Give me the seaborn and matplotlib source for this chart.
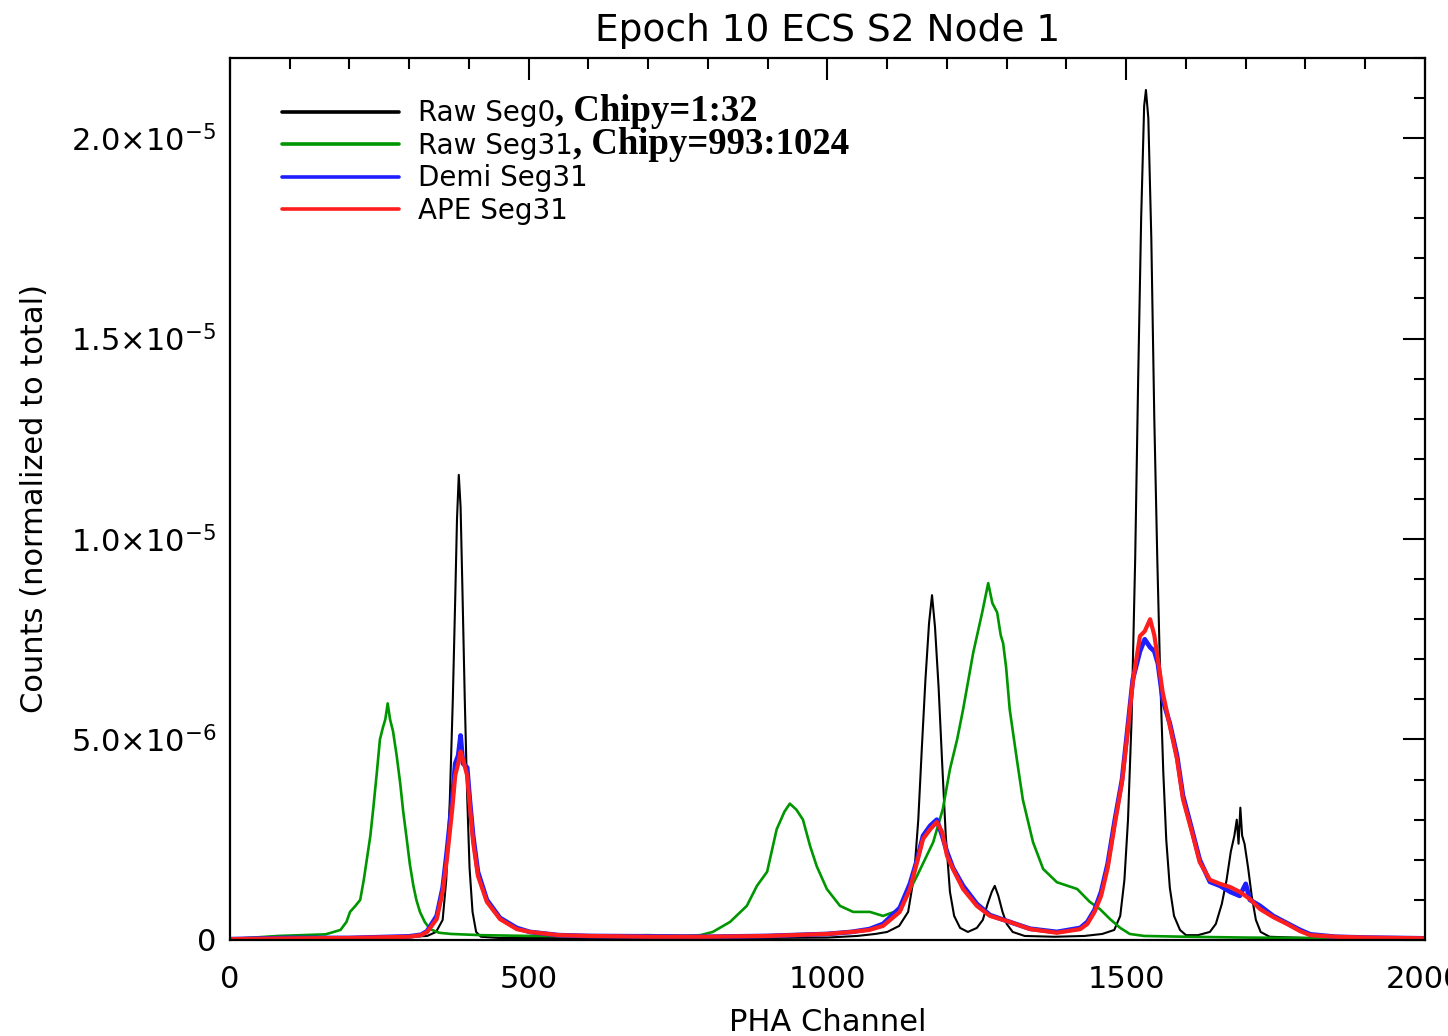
import numpy as np
import pandas as pd
import matplotlib
matplotlib.use("Agg")
import matplotlib.pyplot as plt
import seaborn as sns
from matplotlib.ticker import MultipleLocator, FuncFormatter

# ---------------- data (values in units of 1e-6) ----------------
title = "Epoch 10 ECS S2 Node 1"
x_label = "PHA Channel"
y_label = "Counts (normalized to total)"
series_names = ["Raw Seg0", "Raw Seg31", "Demi Seg31", "APE Seg31"]
series_extra = [", Chipy=1:32", ", Chipy=993:1024", "", ""]

black_pts = [(0, 0.0), (40, 0.02), (100, 0.05), (150, 0.04), (200, 0.06), (250, 0.05),
             (300, 0.08), (330, 0.1), (345, 0.2), (356, 0.5), (362, 1.5), (368, 3.5),
             (373, 6.0), (377, 8.5), (380, 10.5), (383, 11.6), (386, 10.8), (389, 8.8),
             (393, 6.0), (397, 3.6), (401, 1.8), (406, 0.7), (412, 0.2), (420, 0.08),
             (450, 0.05), (500, 0.05), (600, 0.04), (700, 0.05), (800, 0.05), (900, 0.05),
             (1000, 0.06), (1050, 0.1), (1080, 0.15), (1100, 0.2), (1120, 0.35), (1135, 0.7),
             (1145, 1.6), (1152, 3.0), (1158, 4.8), (1164, 6.5), (1170, 7.9), (1175, 8.6),
             (1180, 7.8), (1186, 6.3), (1192, 4.4), (1198, 2.6), (1205, 1.2), (1212, 0.6),
             (1222, 0.3), (1235, 0.2), (1250, 0.3), (1260, 0.5), (1268, 0.9), (1275, 1.2),
             (1280, 1.35), (1286, 1.1), (1293, 0.7), (1300, 0.4), (1310, 0.2), (1330, 0.1),
             (1380, 0.08), (1430, 0.1), (1460, 0.15), (1480, 0.25), (1490, 0.6), (1497, 1.5),
             (1503, 3.0), (1509, 5.5), (1515, 9.5), (1520, 14.0), (1525, 18.0), (1530, 20.8),
             (1533, 21.2), (1537, 20.5), (1542, 17.5), (1547, 13.0), (1552, 9.5), (1557, 6.5),
             (1562, 4.2), (1567, 2.5), (1573, 1.3), (1580, 0.6), (1590, 0.25), (1600, 0.12),
             (1620, 0.12), (1640, 0.2), (1650, 0.4), (1660, 0.9), (1668, 1.5), (1675, 2.2),
             (1681, 2.6), (1685, 3.0), (1688, 2.4), (1691, 3.3), (1694, 2.6), (1698, 2.4),
             (1704, 1.8), (1710, 1.1), (1717, 0.5), (1725, 0.2), (1740, 0.08), (1800, 0.05),
             (1900, 0.04), (2000, 0.03)]

green_pts = [(0, 0.02), (40, 0.06), (80, 0.1), (120, 0.12), (160, 0.14), (185, 0.25),
             (195, 0.45), (201, 0.7), (210, 0.85), (218, 1.0), (224, 1.5), (229, 2.0),
             (235, 2.6), (240, 3.3), (246, 4.2), (251, 5.0), (256, 5.3), (260, 5.5),
             (264, 5.9), (268, 5.5), (273, 5.2), (279, 4.6), (285, 3.9), (290, 3.2),
             (296, 2.5), (301, 1.9), (307, 1.35), (312, 1.0), (318, 0.7), (326, 0.45),
             (335, 0.27), (350, 0.18), (370, 0.15), (420, 0.12), (500, 0.1), (600, 0.1),
             (700, 0.12), (760, 0.1), (787, 0.12), (808, 0.2), (837, 0.45), (865, 0.85),
             (882, 1.35), (899, 1.7), (915, 2.76), (928, 3.2), (937, 3.4), (948, 3.25),
             (959, 3.0), (971, 2.34), (982, 1.84), (999, 1.27), (1021, 0.85), (1043, 0.7),
             (1071, 0.7), (1093, 0.6), (1121, 0.75), (1150, 1.6), (1177, 2.44), (1193, 3.26),
             (1205, 4.26), (1217, 5.0), (1227, 5.75), (1244, 7.17), (1259, 8.17), (1269, 8.9),
             (1276, 8.4), (1284, 8.17), (1290, 7.6), (1294, 7.4), (1299, 6.8), (1305, 5.75),
             (1317, 4.5), (1327, 3.5), (1344, 2.44), (1361, 1.77), (1384, 1.44), (1418, 1.27),
             (1439, 0.95), (1456, 0.77), (1473, 0.52), (1490, 0.3), (1506, 0.15), (1530, 0.1),
             (1600, 0.08), (1700, 0.06), (1800, 0.05), (2000, 0.03)]

blue_pts = [(0, 0.02), (100, 0.05), (200, 0.05), (300, 0.09), (320, 0.13), (330, 0.22),
            (346, 0.6), (356, 1.3), (363, 2.2), (372, 3.5), (377, 4.4), (382, 4.6),
            (386, 5.1), (390, 4.4), (397, 4.3), (402, 3.4), (407, 2.6), (415, 1.7),
            (430, 1.0), (452, 0.55), (480, 0.3), (502, 0.2), (550, 0.12), (600, 0.1),
            (700, 0.09), (800, 0.08), (900, 0.1), (1000, 0.15), (1040, 0.2), (1070, 0.27),
            (1093, 0.4), (1121, 0.8), (1138, 1.4), (1150, 2.0), (1160, 2.6), (1172, 2.85),
            (1183, 3.0), (1192, 2.6), (1200, 2.2), (1210, 1.8), (1227, 1.35), (1250, 0.9),
            (1272, 0.62), (1305, 0.45), (1339, 0.28), (1384, 0.2), (1423, 0.3), (1435, 0.45),
            (1447, 0.75), (1458, 1.2), (1469, 1.9), (1481, 3.0), (1493, 4.0), (1501, 5.1),
            (1511, 6.5), (1523, 7.2), (1531, 7.5), (1540, 7.3), (1547, 7.2), (1553, 6.9),
            (1561, 6.0), (1573, 5.4), (1585, 4.6), (1595, 3.6), (1610, 2.75), (1623, 2.0),
            (1640, 1.45), (1657, 1.35), (1674, 1.2), (1690, 1.1), (1700, 1.4), (1707, 1.0),
            (1724, 0.85), (1746, 0.6), (1769, 0.42), (1791, 0.25), (1808, 0.14), (1850, 0.08),
            (1900, 0.06), (2000, 0.04)]

red_pts = [(0, 0.02), (100, 0.04), (200, 0.05), (300, 0.08), (320, 0.12), (330, 0.2),
           (346, 0.52), (356, 1.2), (363, 2.0), (372, 3.26), (377, 4.1), (382, 4.4),
           (386, 4.7), (390, 4.5), (397, 4.1), (402, 3.26), (407, 2.44), (415, 1.6),
           (430, 0.95), (452, 0.52), (480, 0.27), (502, 0.2), (550, 0.12), (600, 0.1),
           (700, 0.08), (800, 0.08), (900, 0.1), (1000, 0.15), (1040, 0.2), (1070, 0.25),
           (1093, 0.35), (1121, 0.7), (1138, 1.27), (1150, 1.94), (1160, 2.52), (1172, 2.76),
           (1183, 2.94), (1192, 2.69), (1200, 2.1), (1210, 1.77), (1227, 1.27), (1250, 0.85),
           (1272, 0.6), (1305, 0.45), (1339, 0.27), (1384, 0.18), (1423, 0.27), (1435, 0.4),
           (1447, 0.7), (1458, 1.1), (1469, 1.8), (1481, 2.9), (1493, 3.94), (1501, 5.0),
           (1511, 6.43), (1523, 7.58), (1531, 7.7), (1540, 8.0), (1547, 7.6), (1553, 7.0),
           (1561, 6.18), (1573, 5.34), (1585, 4.51), (1595, 3.51), (1610, 2.69), (1623, 1.94),
           (1640, 1.5), (1657, 1.4), (1674, 1.32), (1690, 1.2), (1707, 1.02), (1724, 0.77),
           (1746, 0.57), (1769, 0.40), (1791, 0.22), (1808, 0.12), (1850, 0.08), (1900, 0.06),
           (2000, 0.04)]

series_pts = [black_pts, green_pts, blue_pts, red_pts]
series_colors = ["#000000", "#009600", "#1e1eff", "#ff1e1e"]
series_lw = [1.5, 1.9, 3.4, 3.0]

# ---------------- style ----------------
sns.set_theme(style="white")
plt.rcParams['font.family'] = ['DejaVu Sans']
plt.rcParams['mathtext.fontset'] = 'dejavusans'
plt.rcParams['text.color'] = 'black'
plt.rcParams['axes.labelcolor'] = 'black'
plt.rcParams['xtick.color'] = 'black'
plt.rcParams['ytick.color'] = 'black'

W, H = 14.48, 10.36
fig = plt.figure(figsize=(W, H), dpi=100)
ax = fig.add_axes([0.1588, 0.0927, 0.8253, 0.8514])

for name, pts, col, lw in zip(series_names, series_pts, series_colors, series_lw):
    df = pd.DataFrame(pts, columns=["ch", "val"])
    df["val"] = df["val"] * 1e-6
    sns.lineplot(data=df, x="ch", y="val", ax=ax, color=col, linewidth=lw,
                 label=name, sort=False, estimator=None)

ax.set_xlim(0, 2000)
ax.set_ylim(0, 2.2e-5)
ax.xaxis.set_major_locator(MultipleLocator(500))
ax.xaxis.set_minor_locator(MultipleLocator(100))
ax.yaxis.set_major_locator(MultipleLocator(5e-6))
ax.yaxis.set_minor_locator(MultipleLocator(1e-6))


def yfmt(v, pos):
    if abs(v) < 1e-12:
        return "0"
    e = int(np.floor(np.log10(abs(v)) + 1e-9))
    m = v / 10 ** e
    return r"$%.1f{\times}10^{%d}$" % (m, e)


ax.yaxis.set_major_formatter(FuncFormatter(yfmt))
ax.xaxis.set_major_formatter(FuncFormatter(lambda v, p: "%d" % v))

ax.tick_params(which="both", direction="in", top=True, right=True, color="black",
               width=1.5)
ax.tick_params(which="major", length=16)
ax.tick_params(which="minor", length=8)
ax.tick_params(axis="x", which="major", pad=18, labelsize=22)
ax.tick_params(axis="y", which="major", pad=10, labelsize=22)
for s in ax.spines.values():
    s.set_visible(True)
    s.set_color("black")
    s.set_linewidth(1.6)

ax.set_title(title, fontsize=27, pad=12, color="black")
ax.set_xlabel(x_label, fontsize=22, labelpad=10)
ax.set_ylabel(y_label, fontsize=22, labelpad=16)

leg = ax.legend(loc="upper left", bbox_to_anchor=(0.0435, 0.953), frameon=False,
                fontsize=20, handlelength=4.2, handletextpad=0.7, labelspacing=0.16,
                borderpad=0.0, borderaxespad=0.0)
for ln in leg.get_lines():
    ln.set_linewidth(2.6)
for t in leg.get_texts():
    t.set_color("black")

# place the bold serif suffixes right after the legend labels
fig.canvas.draw()
renderer = fig.canvas.get_renderer()
for txt, extra in zip(leg.get_texts(), series_extra):
    if extra:
        bb = txt.get_window_extent(renderer)
        fig.text(bb.x1 / fig.bbox.width, bb.y0 / fig.bbox.height - 0.002, extra,
                 ha="left", va="bottom", fontfamily="Liberation Serif",
                 fontweight="bold", fontsize=26.5, color="black")

fig.savefig("out.png", dpi=100)
